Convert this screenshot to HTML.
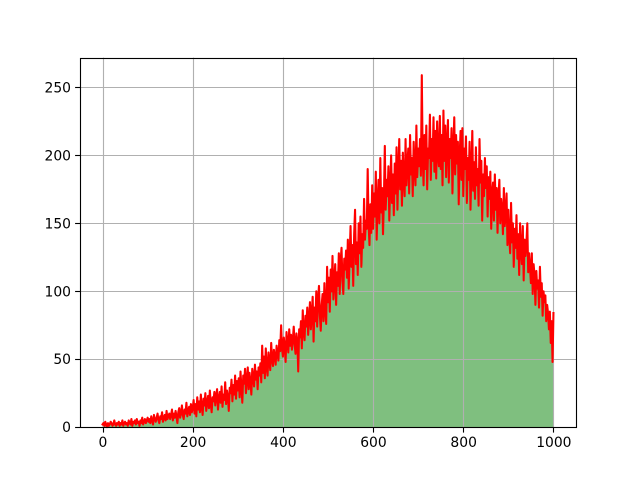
<!DOCTYPE html>
<html>
<head>
<meta charset="utf-8">
<title>Histogram with line overlay</title>
<style>
html,body{margin:0;padding:0;background:#fff;}
svg{display:block;}
text{font-family:"DejaVu Sans",sans-serif;font-size:13.89px;fill:#000;}
</style>
</head>
<body>
<svg id="chart" width="640" height="480" viewBox="0 0 640 480" xmlns="http://www.w3.org/2000/svg">
<rect x="80" y="57.6" width="496" height="369.6" fill="#fff"/>
</svg>
<script>
const binWidth = 2;
const counts = [
2,3,1,4,2,0,3,1,2,4,3,1,2,5,2,1,3,2,4,1,3,2,5,1,3,
4,2,3,1,5,3,2,6,1,4,3,5,2,6,3,4,1,5,3,7,2,4,6,3,5,
7,4,6,3,8,5,2,9,6,4,7,10,5,3,8,6,11,4,7,9,5,12,6,8,10,
6,9,13,5,10,7,12,8,3,11,14,7,10,16,9,6,13,10,18,8,12,15,9,17,11,
14,20,10,17,8,22,13,19,11,24,15,9,21,16,25,12,18,23,14,27,17,11,22,19,26,
16,23,28,13,21,26,18,30,15,24,20,33,17,27,22,12,29,25,35,19,31,24,38,21,34,
27,36,22,41,29,18,38,32,43,25,35,44,28,40,33,24,43,37,30,46,35,41,28,44,38,
47,33,60,40,52,36,58,44,38,55,48,42,62,50,45,57,52,46,60,54,49,64,56,75,58,
52,66,59,48,70,62,55,72,60,68,57,64,74,61,54,69,63,41,72,66,78,58,86,70,64,
82,74,88,68,80,92,72,84,96,63,88,78,100,74,94,104,82,71,90,98,78,106,86,76,118,
92,110,85,116,100,126,94,108,120,90,114,104,128,98,122,132,108,98,124,116,130,110,138,102,126,
148,118,134,104,142,160,120,136,112,150,128,155,118,142,132,168,138,152,146,190,150,134,164,143,178,
146,172,155,188,138,165,182,150,198,158,176,142,168,207,160,182,170,192,152,178,200,165,186,156,194,
172,206,160,188,212,175,196,163,202,182,170,212,178,192,205,172,215,186,198,170,210,190,178,222,184,
205,192,212,185,259,198,178,215,190,222,175,205,198,230,182,212,196,228,188,218,183,225,200,192,229,
190,215,178,233,196,222,184,208,226,180,212,198,220,172,205,228,186,215,194,210,164,200,218,182,220,
170,205,190,214,165,198,182,210,160,188,218,174,195,168,206,178,190,163,212,180,196,152,186,170,198,
176,192,155,184,168,188,146,172,180,152,186,160,176,143,170,182,150,168,160,142,176,148,158,172,134,
160,140,128,165,136,150,118,146,132,156,124,142,112,150,130,120,148,108,138,126,135,150,114,128,118,
106,128,98,120,112,90,115,102,108,88,118,96,106,82,100,92,97,78,90,84,72,85,62,78,48,
84
];
const xTicks = [0,200,400,600,800,1000];
const yTicks = [0,50,100,150,200,250];

const NS = 'http://www.w3.org/2000/svg';
const svg = document.getElementById('chart');
const left = 80, right = 576, top_ = 57.6, bottom = 427.2;
const xMin = -50, xMax = 1050, yMin = 0;
const yMax = Math.max.apply(null, counts) * 1.05;
function xScale(v){ return left + (v - xMin) / (xMax - xMin) * (right - left); }
function yScale(v){ return bottom - (v - yMin) / (yMax - yMin) * (bottom - top_); }
function snap(p){ return Math.round(p) + 0.5; }
function make(tag, attrs, text){
  const el = document.createElementNS(NS, tag);
  for (const k in attrs) el.setAttribute(k, attrs[k]);
  if (text !== undefined) el.textContent = text;
  svg.appendChild(el);
  return el;
}

let barPath = 'M' + xScale(0) + ' ' + yScale(0);
counts.forEach(function(c, i){
  const x0 = i * binWidth;
  const x1 = (i + 1) * binWidth;
  if (x0 < 1000) {
    barPath += 'L' + xScale(x0).toFixed(2) + ' ' + yScale(c).toFixed(2) + 'L' + xScale(x1).toFixed(2) + ' ' + yScale(c).toFixed(2);
  }
});
barPath += 'L' + xScale(1000) + ' ' + yScale(0) + 'Z';
const bars = make('path', {d:barPath, fill:'#008000', 'fill-opacity':0.5, stroke:'none'});



xTicks.forEach(function(t){
  const g = make('line', {x1:snap(xScale(t)), x2:snap(xScale(t)), y1:top_, y2:bottom, stroke:'#b0b0b0', 'stroke-width':1.11});
  
  
});
yTicks.forEach(function(t){
  const g = make('line', {x1:left, x2:right, y1:snap(yScale(t)), y2:snap(yScale(t)), stroke:'#b0b0b0', 'stroke-width':1.11});
  
  
});

let linePath = '';
counts.forEach(function(c, i){
  linePath += (i ? 'L' : 'M') + xScale(i * binWidth).toFixed(2) + ' ' + yScale(c).toFixed(2);
});
const line = make('path', {d:linePath, fill:'none', stroke:'#ff0000', 'stroke-width':2.08, 'stroke-linejoin':'round', 'stroke-linecap':'square'});



xTicks.forEach(function(t){
  const px = snap(xScale(t));
  const m = make('line', {x1:px, x2:px, y1:bottom, y2:bottom + 5.4, stroke:'#000', 'stroke-width':1.11});
  
  
  const l = make('text', {x:xScale(t) + 0.4, y:447, 'text-anchor':'middle'}, String(t));
  
  
});
yTicks.forEach(function(t){
  const py = snap(yScale(t));
  const m = make('line', {x1:left - 4.9, x2:left, y1:py, y2:py, stroke:'#000', 'stroke-width':1.11});
  
  
  const l = make('text', {x:71, y:yScale(t) + 5, 'text-anchor':'end'}, String(t));
  
  
});

const frame = make('rect', {x:80.5, y:58.5, width:496, height:369, fill:'none', stroke:'#000', 'stroke-width':1.11});


</script>
</body>
</html>
